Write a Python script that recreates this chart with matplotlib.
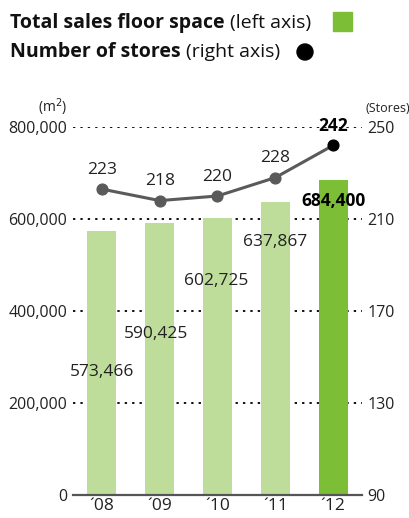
import matplotlib
matplotlib.use("Agg")
import matplotlib.pyplot as plt
from matplotlib.patches import Rectangle, Ellipse

plt.rcParams['font.family'] = ['Open Sans', 'DejaVu Sans']

years = ["´08", "´09", "´10", "´11", "´12"]
floor_space = [573466, 590425, 602725, 637867, 684400]
stores = [223, 218, 220, 228, 242]
left_ticks = [0, 200000, 400000, 600000, 800000]
right_ticks = [90, 130, 170, 210, 250]

light_green = "#bedd9b"
dark_green = "#7dbe37"
line_gray = "#5a5a5a"

W, H = 410, 518
fig = plt.figure(figsize=(W / 100, H / 100), dpi=100)
ax = fig.add_axes([73 / W, 1 - 495 / H, (362 - 73) / W, (495 - 127) / H])
ax2 = ax.twinx()

x = list(range(len(years)))
colors = [light_green] * (len(years) - 1) + [dark_green]

# grid lines (dotted)
for t in left_ticks[1:]:
    ax.axhline(t, color="#111111", linestyle=(0, (1.2, 2.6)), linewidth=1.4, zorder=0)

ax.bar(x, floor_space, width=0.5, color=colors, zorder=2)
ax.set_xlim(-0.5, 4.5)
ax.set_ylim(0, 800000)
ax2.set_ylim(90, 250)

ax.set_yticks(left_ticks)
ax.set_yticklabels([f"{v:,}" for v in left_ticks])
ax2.set_yticks(right_ticks)
ax2.set_yticklabels([str(v) for v in right_ticks])
ax.set_xticks(x)
ax.set_xticklabels(years)

for a in (ax, ax2):
    for s in ("top", "left", "right", "bottom"):
        a.spines[s].set_visible(False)
ax.spines["bottom"].set_visible(True)
ax.spines["bottom"].set_color("#555555")
ax.spines["bottom"].set_linewidth(1.6)

ax.tick_params(axis="y", length=0, pad=4, labelsize=11.5, labelcolor="#222222")
ax2.tick_params(axis="y", length=0, pad=4, labelsize=11.5, labelcolor="#222222")
ax.tick_params(axis="x", length=0, pad=2, labelsize=12.5, labelcolor="#222222")

# line of stores
ax2.plot(x, stores, color=line_gray, linewidth=2.2, zorder=3)
ax2.scatter(x[:-1], stores[:-1], s=60, color=line_gray, zorder=4)
ax2.scatter(x[-1:], stores[-1:], s=60, color="black", zorder=4)
for i, v in enumerate(stores):
    ax2.annotate(str(v), (i, v), xytext=(0, 14), textcoords="offset points",
                 ha="center", va="center", fontsize=12.5,
                 fontweight="bold" if i == len(stores) - 1 else "normal",
                 color="black" if i == len(stores) - 1 else "#222222")

# bar value labels (staggered positions)
label_y = [267000, 350000, 465000, 550000, 639000]
label_dx = [0, -0.07, -0.03, 0, 0]
for i, v in enumerate(floor_space):
    last = i == len(floor_space) - 1
    ax.text(i + label_dx[i], label_y[i], f"{v:,}", ha="center", va="center",
            fontsize=12.5, fontweight="bold" if last else "normal",
            color="black" if last else "#222222", zorder=5)

ax2.set_zorder(ax.get_zorder() + 1)
ax2.patch.set_visible(False)

# unit labels
fig.text(53 / W, 1 - 107 / H, "(m$^2$)", ha="center", va="center", fontsize=10, color="#222222")
fig.text(366 / W, 1 - 108 / H, "(Stores)", ha="left", va="center", fontsize=9, color="#222222")

# legend
fig.canvas.draw()
r = fig.canvas.get_renderer()


def legend_line(y_px, bold, normal):
    t1 = fig.text(10 / W, 1 - y_px / H, bold, fontsize=14, fontweight="bold",
                  ha="left", va="center", color="#111111")
    bb = t1.get_window_extent(renderer=r)
    t2 = fig.text(bb.x1 / W + 5 / W, 1 - y_px / H, normal, fontsize=14,
                  ha="left", va="center", color="#111111")
    return t2.get_window_extent(renderer=r)


legend_line(23, "Total sales floor space", "(left axis)")
legend_line(52, "Number of stores", "(right axis)")

fig.patches.append(Rectangle((333 / W, 1 - 31 / H), 19 / W, 19 / H,
                             transform=fig.transFigure, color=dark_green))
fig.patches.append(Ellipse((305 / W, 1 - 52 / H), 16 / W, 16 / H,
                           transform=fig.transFigure, color="black"))

fig.savefig("out.png", dpi=100)
